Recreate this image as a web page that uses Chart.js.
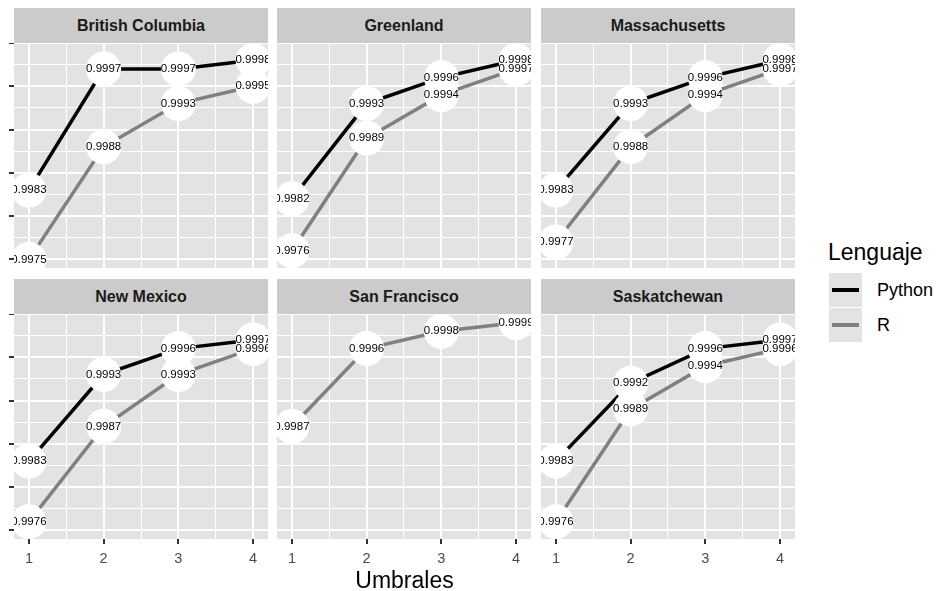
<!DOCTYPE html>
<html>
<head>
<meta charset="utf-8">
<script src="https://cdn.jsdelivr.net/npm/chart.js@4/dist/chart.umd.min.js"></script>
<style>
  html, body { margin: 0; padding: 0; background: #ffffff; }
  body { width: 936px; height: 591px; position: relative; overflow: hidden;
         font-family: "Liberation Sans", Arial, sans-serif; }
  .strip { position: absolute; background: #cbcbcb; color: #1a1a1a; font-weight: bold;
           font-size: 16px; display: flex; align-items: center; justify-content: center; }
  .panel { position: absolute; }
  .panel canvas { display: block; }
  .txt { position: absolute; white-space: nowrap; color: #000; }
  .key { position: absolute; background: #e3e3e3; }
  .key i { position: absolute; left: 3px; right: 3px; top: 50%; height: 4px; margin-top: -2px; }
</style>
</head>
<body>
<script>
// Facet order and x values (thresholds)
const regions = ['British Columbia', 'Greenland', 'Massachusetts', 'New Mexico', 'San Francisco', 'Saskatchewan'];
const umbrales = [1, 2, 3, 4];

// Accuracy per threshold, one row per region (same order as `regions`)
const pythonAcc = [
  [0.9983, 0.9997, 0.9997, 0.9998],
  [0.9982, 0.9993, 0.9996, 0.9998],
  [0.9983, 0.9993, 0.9996, 0.9998],
  [0.9983, 0.9993, 0.9996, 0.9997],
  [null, null, null, null],
  [0.9983, 0.9992, 0.9996, 0.9997]
];
const rAcc = [
  [0.9975, 0.9988, 0.9993, 0.9995],
  [0.9976, 0.9989, 0.9994, 0.9997],
  [0.9977, 0.9988, 0.9994, 0.9997],
  [0.9976, 0.9987, 0.9993, 0.9996],
  [0.9987, 0.9996, 0.9998, 0.9999],
  [0.9976, 0.9989, 0.9994, 0.9996]
];

// Axis breaks
const xMajorTicks = [1, 2, 3, 4];
const xMinorTicks = [1.5, 2.5, 3.5];
const yMajorTicks = [0.9975, 0.998, 0.9985, 0.999, 0.9995, 1.0];
const yMinorTicks = [0.99775, 0.99825, 0.99875, 0.99925, 0.99975];

const series = [
  { name: 'Python', values: pythonAcc, color: '#000000' },
  { name: 'R', values: rAcc, color: '#808080' }
];

// Panel grid geometry (pixels)
const COL_L = [14, 277, 541];
const PANEL_W = 254;
const ROW_T = [43, 314];
const PANEL_H = 225;
const STRIP_H = 35;
const Y_TICK_LEN = 5;
const X_AXIS_H = 34;
const PANEL_BG = '#e3e3e3';

const panelBackground = {
  id: 'panelBackground',
  beforeDraw(chart) {
    const a = chart.chartArea, c = chart.ctx;
    c.save();
    c.fillStyle = PANEL_BG;
    c.fillRect(a.left, a.top, a.right - a.left, a.bottom - a.top);
    c.restore();
  }
};

// Value labels centred on every point, clipped to the panel
const valueLabels = {
  id: 'valueLabels',
  afterDatasetsDraw(chart) {
    const a = chart.chartArea, c = chart.ctx;
    const xs = chart.scales.x, ys = chart.scales.y;
    c.save();
    c.beginPath();
    c.rect(a.left, a.top, a.right - a.left, a.bottom - a.top);
    c.clip();
    c.fillStyle = '#000';
    c.font = '11.5px "Liberation Sans", Arial, sans-serif';
    c.textAlign = 'center';
    c.textBaseline = 'middle';
    chart.data.datasets.forEach(ds => {
      if (!ds.isLabelLayer) return;
      ds.data.forEach(p => {
        if (p.y == null) return;
        c.fillText(p.y.toFixed(4), xs.getPixelForValue(p.x), ys.getPixelForValue(p.y));
      });
    });
    c.restore();
  }
};

function tickList(major, minor) {
  return major.map(v => ({ value: v, isMajor: true }))
    .concat(minor.map(v => ({ value: v, isMajor: false })))
    .sort((a, b) => a.value - b.value);
}

function addText(text, left, top, size, extra) {
  const d = document.createElement('div');
  d.className = 'txt';
  d.textContent = text;
  d.style.left = left + 'px';
  d.style.top = top + 'px';
  d.style.fontSize = size + 'px';
  d.style.lineHeight = '1';
  if (extra) Object.assign(d.style, extra);
  document.body.appendChild(d);
  return d;
}

function makePanel(idx) {
  const col = idx % 3, row = Math.floor(idx / 3);
  const left = COL_L[col], top = ROW_T[row];
  const yw = col === 0 ? Y_TICK_LEN : 0;
  const xh = row === 1 ? X_AXIS_H : 0;

  const strip = document.createElement('div');
  strip.className = 'strip';
  strip.style.left = left + 'px';
  strip.style.top = (top - STRIP_H) + 'px';
  strip.style.width = PANEL_W + 'px';
  strip.style.height = STRIP_H + 'px';
  strip.textContent = regions[idx];
  document.body.appendChild(strip);

  const wrap = document.createElement('div');
  wrap.className = 'panel';
  wrap.style.left = (left - yw) + 'px';
  wrap.style.top = top + 'px';
  const canvas = document.createElement('canvas');
  canvas.width = PANEL_W + yw;
  canvas.height = PANEL_H + xh;
  wrap.appendChild(canvas);
  document.body.appendChild(wrap);

  const datasets = [];
  series.forEach((s, si) => {
    const vals = s.values[idx];
    if (vals.every(v => v == null)) return;
    const pts = umbrales.map((x, i) => ({ x: x, y: vals[i] }));
    datasets.push({
      label: s.name, data: pts, borderColor: s.color, borderWidth: 3.5,
      pointRadius: 0, showLine: true, clip: 0, order: 10 - si
    });
    datasets.push({
      label: s.name, data: pts, showLine: false, pointRadius: 17.5,
      pointBackgroundColor: '#ffffff', pointBorderWidth: 0, pointBorderColor: '#ffffff',
      clip: 0, order: 5 - si, isLabelLayer: true
    });
  });

  new Chart(canvas, {
    type: 'line',
    data: { datasets: datasets },
    options: {
      responsive: false, animation: false, devicePixelRatio: 1, events: [],
      layout: { padding: 0, autoPadding: false },
      plugins: { legend: { display: false }, tooltip: { enabled: false }, title: { display: false } },
      scales: {
        x: {
          type: 'linear', min: 0.8, max: 4.2,
          border: { display: false },
          afterBuildTicks: s => { s.ticks = tickList(xMajorTicks, xMinorTicks); },
          afterFit: s => { s.height = xh; },
          grid: {
            color: '#ffffff',
            lineWidth: c => (c.tick && c.tick.isMajor ? 2 : 1),
            drawTicks: row === 1, tickLength: 5, tickWidth: 2,
            tickColor: c => (c.tick && c.tick.isMajor ? '#333333' : 'rgba(0,0,0,0)')
          },
          ticks: {
            display: row === 1, autoSkip: false, maxRotation: 0, padding: 6,
            color: '#4d4d4d', font: { size: 14.5, family: '"Liberation Sans", Arial, sans-serif' },
            callback: (v, i, t) => (t[i].isMajor ? String(v) : '')
          }
        },
        y: {
          type: 'linear', min: 0.9974, max: 1.0,
          border: { display: false },
          afterBuildTicks: s => { s.ticks = tickList(yMajorTicks, yMinorTicks); },
          afterFit: s => { s.width = yw; },
          grid: {
            color: '#ffffff',
            lineWidth: c => (c.tick && c.tick.isMajor ? 2 : 1),
            drawTicks: col === 0, tickLength: Y_TICK_LEN, tickWidth: 2,
            tickColor: c => (c.tick && c.tick.isMajor ? '#333333' : 'rgba(0,0,0,0)')
          },
          ticks: { display: false }
        }
      }
    },
    plugins: [panelBackground, valueLabels]
  });
}

regions.forEach((r, i) => makePanel(i));

// Shared x-axis title
addText('Umbrales', 0, 569, 23, { width: (COL_L[2] + PANEL_W + COL_L[0]) + 'px', textAlign: 'center', color: '#000' });

// Legend
addText('Lenguaje', 828, 241, 23);
series.forEach((s, i) => {
  const k = document.createElement('div');
  k.className = 'key';
  k.style.left = '829px';
  k.style.top = (273 + i * 35) + 'px';
  k.style.width = '33px';
  k.style.height = '34px';
  const ln = document.createElement('i');
  ln.style.background = s.color;
  k.appendChild(ln);
  document.body.appendChild(k);
  addText(s.name, 877, 281 + i * 35, 18);
});
</script>
</body>
</html>
